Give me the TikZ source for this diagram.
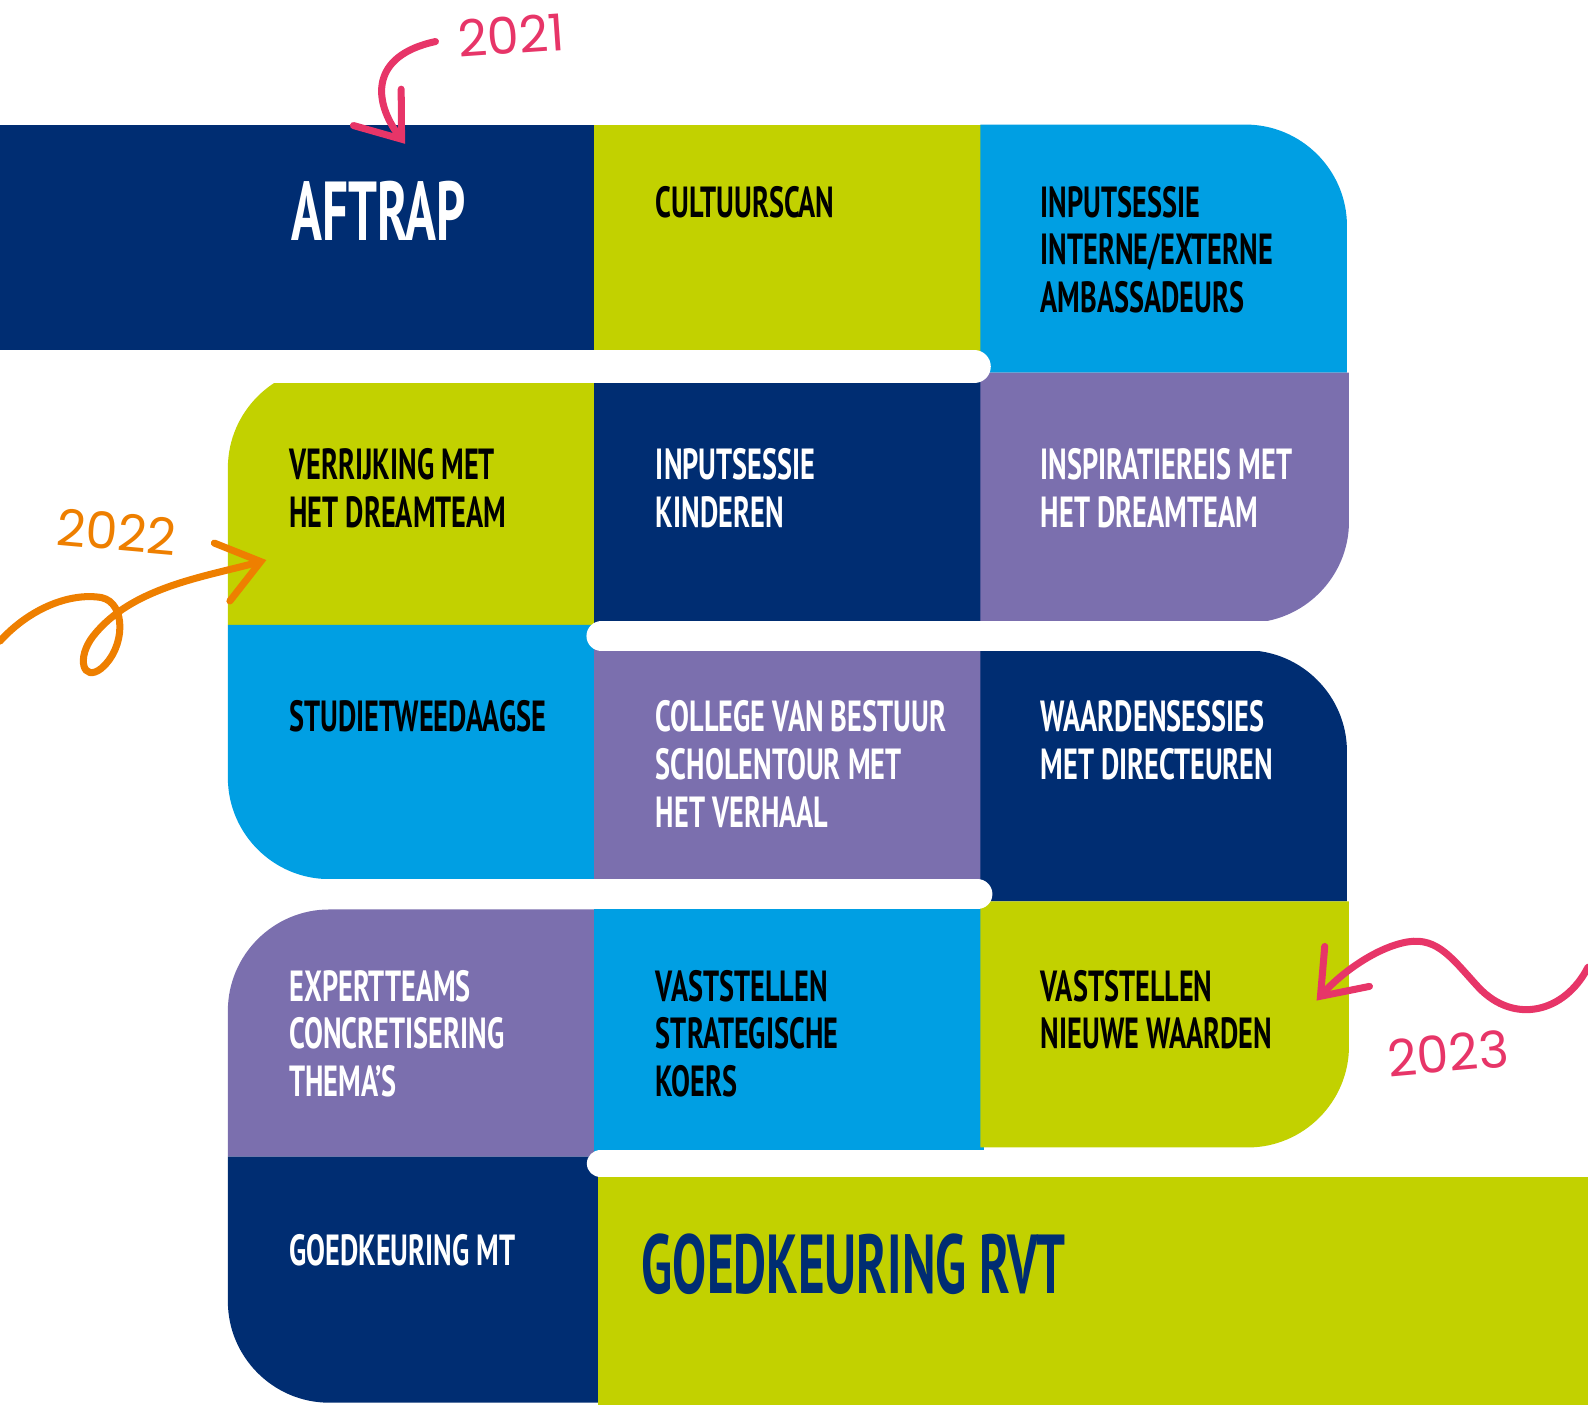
\documentclass[tikz,border=0pt]{standalone}
\usepackage{fontspec}
\usetikzlibrary{arrows.meta}
\newfontfamily\blockfont{PT Sans}[FakeStretch=0.65]
\newfontfamily\bigfont{PT Sans}[FakeStretch=0.61]
\newfontfamily\yearfont{Poppins}
\definecolor{navy}{HTML}{002D72}
\definecolor{lime}{HTML}{C2D100}
\definecolor{sky}{HTML}{009FE3}
\definecolor{paars}{HTML}{7B6FAE}
\definecolor{roze}{HTML}{E73568}
\definecolor{oranje}{HTML}{EE7F00}
\tikzset{
  tasktext/.style={font=\blockfont\bfseries\fontsize{12.4}{13.6}\selectfont,
    align=left, anchor=north west, inner sep=0pt},
  darktext/.style={tasktext, text=white},
  lighttext/.style={tasktext, text=black},
  bigtext/.style={tasktext, font=\bigfont\bfseries\fontsize{23.8}{26}\selectfont},
  gapbar/.style={white, line width=8.6pt, line cap=round},
  yeartext/.style={font=\yearfont\fontsize{14.5}{16}\selectfont, inner sep=0pt},
  yeararrow/.style={line width=2pt, line cap=round,
    -{Straight Barb[length=4mm,width=6mm,line width=2pt,line cap=round]}}
}
\begin{document}
\begin{tikzpicture}[x=0.010128cm,y=-0.010128cm]
	\useasboundingbox (0,0) rectangle (1568,1387);

	% Riga 1
	\fill[navy] (0,123) rectangle (590,362);
	\fill[lime] (587,123) rectangle (972,362);
	\fill[sky] (968,368) -- (968,123) -- (1230,123) .. controls (1285,123) and (1330,168) .. (1330,223) -- (1330,368) -- cycle;

	% Riga 2
	\fill[lime] (590,617) -- (225,617) -- (225,462) .. controls (225,407) and (270,362) .. (325,362) -- (590,362) -- cycle;
	\fill[navy] (587,362) rectangle (972,628);
	\fill[paars] (968,368) -- (1332,368) -- (1332,515) .. controls (1332,570) and (1287,615) .. (1232,615) -- (968,615) -- cycle;

	% Riga 3
	\fill[sky] (590,617) -- (225,617) -- (225,768) .. controls (225,823) and (270,868) .. (325,868) -- (590,868) -- cycle;
	\fill[paars] (587,628) rectangle (972,883);
	\fill[navy] (968,890) -- (968,642) -- (1230,642) .. controls (1285,642) and (1330,687) .. (1330,742) -- (1330,890) -- cycle;

	% Riga 4
	\fill[paars] (590,1142) -- (225,1142) -- (225,998) .. controls (225,943) and (270,898) .. (325,898) -- (590,898) -- cycle;
	\fill[sky] (587,883) rectangle (972,1150);
	\fill[lime] (968,890) -- (1332,890) -- (1332,1033) .. controls (1332,1088) and (1287,1133) .. (1232,1133) -- (968,1133) -- cycle;

	% Riga 5
	\fill[navy] (592,1142) -- (225,1142) -- (225,1285) .. controls (225,1340) and (270,1385) .. (325,1385) -- (592,1385) -- cycle;
	\fill[lime] (590,1150) rectangle (1568,1388);

	% Strisce bianche tra le righe
	\draw[gapbar,line width=9.4pt] (0,362) -- (962,362);
	\draw[gapbar] (594,628) -- (1345,628);
	\draw[gapbar] (180,883) -- (965,883);
	\draw[gapbar,line width=7.8pt] (593,1149) -- (1580,1149);

	% Testi dei blocchi
	\node[bigtext,text=white] (aftrap) at (287,178) {AFTRAP};
	\node[lighttext] (cultuurscan) at (647,183) {CULTUURSCAN};
	\node[lighttext] (inputamb) at (1027,183) {INPUTSESSIE\\INTERNE/EXTERNE\\AMBASSADEURS};
	\node[lighttext] (verrijking) at (285,442) {VERRIJKING MET\\HET DREAMTEAM};
	\node[darktext] (inputkind) at (647,442) {INPUTSESSIE\\KINDEREN};
	\node[darktext] (inspiratie) at (1027,442) {INSPIRATIEREIS MET\\HET DREAMTEAM};
	\node[lighttext] (studie) at (285,691) {STUDIETWEEDAAGSE};
	\node[darktext] (college) at (647,691) {COLLEGE VAN BESTUUR\\SCHOLENTOUR MET\\HET VERHAAL};
	\node[darktext] (waarden) at (1027,691) {WAARDENSESSIES\\MET DIRECTEUREN};
	\node[darktext] (expert) at (285,957) {EXPERTTEAMS\\CONCRETISERING\\THEMA’S};
	\node[lighttext] (koers) at (647,957) {VASTSTELLEN\\STRATEGISCHE\\KOERS};
	\node[lighttext] (nwaarden) at (1027,957) {VASTSTELLEN\\NIEUWE WAARDEN};
	\node[darktext] (mt) at (285,1218) {GOEDKEURING MT};
	\node[bigtext,text=navy] (rvt) at (633,1218) {GOEDKEURING RVT};

	% Anni con frecce
	\node[yeartext,text=roze,rotate=4] (y2021) at (505,35) {2021};
	\coordinate (s21) at (430,41);
	\coordinate (e21) at (400,142);
	\draw[yeararrow,roze] (s21) .. controls (365,55) and (368,100) .. (e21);

	\node[yeartext,text=oranje,rotate=-5] (y2022) at (115,525) {2022};
	\coordinate (s22) at (0,633);
	\coordinate (e22) at (263,553);
	\draw[yeararrow,oranje] (s22) .. controls (30,600) and (70,585) .. (100,590)
		.. controls (125,595) and (124,640) .. (100,660)
		.. controls (82,674) and (75,650) .. (92,628)
		.. controls (130,580) and (200,570) .. (e22);

	\node[yeartext,text=roze,rotate=5] (y2023) at (1430,1040) {2023};
	\coordinate (s23) at (1568,955);
	\coordinate (e23) at (1300,988);
	\draw[yeararrow,roze] (s23) .. controls (1545,1000) and (1495,1012) .. (1460,975)
		.. controls (1435,948) and (1420,925) .. (1390,930)
		.. controls (1360,935) and (1325,960) .. (e23);

\end{tikzpicture}
\end{document}
